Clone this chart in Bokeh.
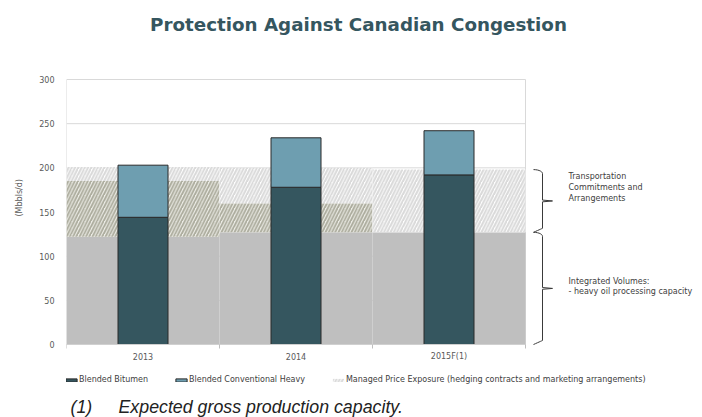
import numpy as np
from bokeh.plotting import figure
from bokeh.models import FixedTicker, Legend, LegendItem, Title
from bokeh.core.properties import value
from bokeh.embed import file_html
from bokeh.resources import INLINE

# ---- data (Mbbls/d) ----
years = ["2013", "2014", "2015F(1)"]
blended_bitumen = [144, 178, 192]
blended_conventional_heavy = [59, 56, 50]
integrated_volumes = [122, 127, 127]
transport_commitments = [185, 160, 127]
managed_price_exposure = [201, 200, 198]
y_ticks = [0, 50, 100, 150, 200, 250, 300]

# ---- layout constants (canvas pixels) ----
W, H = 702, 417
LEFT, TOP, BOTTOM = 66, 79, 344       # value-area edges: 300 at TOP, 0 at BOTTOM
CAT_PX = 153.0                        # width of one category band
PX_PER_UNIT = (BOTTOM - TOP) / 300.0

def px_x(px):
    return (px - LEFT) / CAT_PX

def px_y(py):
    return (BOTTOM - py) / PX_PER_UNIT

TEXT = "#595959"
TEAL_DARK = "#35565F"
TEAL_LIGHT = "#6E9EB0"
GRID = "#D9D9D9"

# the frame fills the canvas right of the y axis, so heading, note and
# legend are all drawn inside it
p = figure(width=W, height=H, x_range=(0, px_x(W)), y_range=(px_y(H), px_y(0)),
           output_backend="svg", toolbar_location=None,
           title_location=None, x_axis_location=None, y_axis_location="left",
           min_border=0, min_border_left=LEFT)
p.outline_line_color = None
p.xgrid.visible = False
p.ygrid.visible = False
p.background_fill_color = "white"
p.border_fill_color = "white"

n = len(years)
idx = np.arange(n)
left = idx.astype(float)
right = left + 1
centers = left + 0.5

# gridlines and border of the value area
p.segment(x0=[0] * len(y_ticks), x1=[n] * len(y_ticks), y0=y_ticks, y1=y_ticks,
          line_color=GRID, line_width=1)
p.segment(x0=[0, n], x1=[0, n], y0=[0, 0], y1=[300, 300], line_color=GRID, line_width=1)

# background bands
p.quad(left=left, right=right, bottom=0, top=integrated_volumes,
       fill_color="#BFBFBF", line_color=None)
p.quad(left=left, right=right, bottom=integrated_volumes, top=transport_commitments,
       fill_color="#EDEDE7", line_color=None,
       hatch_pattern="/", hatch_color="#ABAB9C", hatch_scale=6.5, hatch_weight=1.8)
managed = p.quad(left=left, right=right, bottom=transport_commitments, top=managed_price_exposure,
                 fill_color="#FFFFFF", line_color=None,
                 hatch_pattern="/", hatch_color="#D9D9D9", hatch_scale=6.5, hatch_weight=2.0)

# stacked bars
bit_top = np.array(blended_bitumen, dtype=float)
conv_top = bit_top + np.array(blended_conventional_heavy, dtype=float)
BAR_W = 50 / CAT_PX
bit = p.vbar(x=centers, width=BAR_W, bottom=0, top=bit_top,
             fill_color=TEAL_DARK, line_color="#2A2A2A", line_width=1)
conv = p.vbar(x=centers, width=BAR_W, bottom=bit_top, top=conv_top,
              fill_color=TEAL_LIGHT, line_color="#2A2A2A", line_width=1)

# category axis: baseline, boundary ticks and labels
tick_len = 4 / PX_PER_UNIT
p.segment(x0=[0], x1=[n], y0=[0], y1=[0], line_color="#D0D0D0", line_width=1)
p.segment(x0=list(range(n + 1)), x1=list(range(n + 1)), y0=[0] * (n + 1),
          y1=[-tick_len] * (n + 1), line_color="#BFBFBF", line_width=1)
p.text(x=centers, y=[px_y(356)] * n, text=years,
       text_font=value("DejaVu Sans"), text_font_size="8px", text_color=TEXT,
       text_align="center", text_baseline="middle")

# value axis
p.yaxis.ticker = FixedTicker(ticks=y_ticks)
p.yaxis.axis_line_color = None
p.yaxis.major_tick_line_color = None
p.yaxis.minor_tick_line_color = None
p.yaxis.major_label_text_font = "DejaVu Sans"
p.yaxis.major_label_text_font_size = "8px"
p.yaxis.major_label_text_color = TEXT
p.yaxis.major_label_standoff = 6
p.add_layout(Title(text="(Mbbls/d)", text_font="DejaVu Sans", text_font_size="8px",
                   text_font_style="normal", text_color=TEXT, align="left",
                   offset=H - 216, standoff=25), "left")

# braces on the right
def brace(x_left, x_mid, x_tip, y_top, y_bot, r_px=4.0):
    r = r_px / PX_PER_UNIT
    rx = x_mid - x_left
    ym = (y_top + y_bot) / 2
    t = np.linspace(0, np.pi / 2, 8)
    xs, ys = [], []
    xs += list(x_left + rx * np.sin(t)); ys += list(y_top - r * (1 - np.cos(t)))
    xs += [x_mid, x_tip, x_mid]; ys += [ym + 1.0, ym, ym - 1.0]
    xs += list(x_mid - rx * (1 - np.cos(t))); ys += list(y_bot + r * np.cos(t))
    return xs, ys

xl, xm, xt = px_x(533), px_x(542), px_x(552)
top_span = managed_price_exposure[-1]
mid_span = integrated_volumes[-1]
for y_hi, y_lo in [(top_span, mid_span), (mid_span, 0)]:
    bx, by = brace(xl, xm, xt, y_hi, y_lo)
    p.line(bx, by, line_color="#3A3A3A", line_width=1)

p.text(x=[px_x(568)] * 2, y=[px_y(187), px_y(286)],
       text=["Transportation\nCommitments and\nArrangements",
             "Integrated Volumes:\n- heavy oil processing capacity"],
       text_font=value("DejaVu Sans"), text_font_size="8px", text_color="#404040",
       text_baseline="middle", text_align="left", text_line_height=1.2)

# heading and footnote
p.text(x=[px_x(358)], y=[px_y(23.5)], text=["Protection Against Canadian Congestion"],
       text_font=value("DejaVu Sans"), text_font_style="bold", text_font_size="18.3px",
       text_color=TEAL_DARK, text_align="center", text_baseline="middle")
p.text(x=[px_x(70), px_x(118)], y=[px_y(406.5)] * 2,
       text=["(1)", "Expected gross production capacity."],
       text_font=value("Liberation Sans"), text_font_style="italic", text_font_size="17.8px",
       text_color="#222222", text_align="left", text_baseline="middle")

legend = Legend(items=[
    LegendItem(label="Blended Bitumen", renderers=[bit]),
    LegendItem(label="Blended Conventional Heavy", renderers=[conv]),
    LegendItem(label="Managed Price Exposure (hedging contracts and marketing arrangements)",
               renderers=[managed]),
], orientation="horizontal", location=(-2, H - 384),
    label_text_font="DejaVu Sans", label_text_font_size="8px", label_text_color="#404040",
    glyph_width=14, glyph_height=4, label_height=8, label_standoff=1, spacing=26,
    padding=0, margin=0, border_line_color=None, background_fill_alpha=0)
p.add_layout(legend, "center")

open("out.html", "w").write(file_html(p, INLINE))
